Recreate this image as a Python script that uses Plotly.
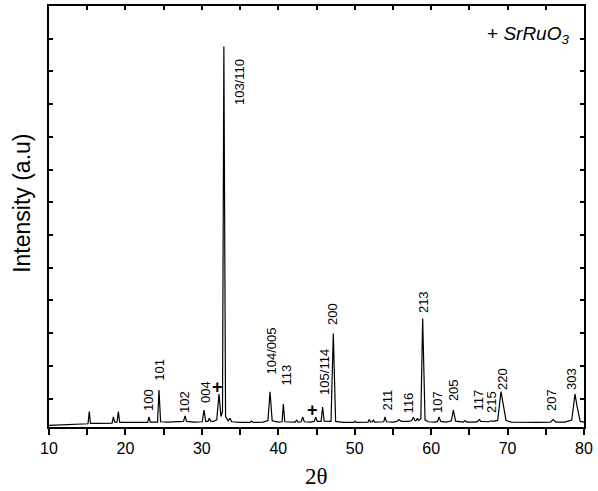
import plotly.graph_objects as go

# XRD pattern (2theta in degrees, intensity in arbitrary units)
two_theta = [10.0, 12.0, 14.0, 15.1, 15.27, 15.42, 16.5, 18.25, 18.42, 18.6, 18.9, 19.07, 19.25,
             20.5, 21.5, 22.9, 23.08, 23.25, 24.2, 24.39, 24.6, 25.5, 27.0, 27.6, 27.8, 28.0,
             29.0, 30.05, 30.28, 30.5, 30.8, 30.97, 31.15, 31.5, 31.95, 32.24, 32.5, 32.7, 32.88,
             33.1, 33.45, 33.68, 33.9, 35.0, 36.3, 36.5, 36.7, 38.0, 38.65, 38.92, 39.2, 40.0,
             40.5, 40.66, 40.85, 41.5, 42.2, 42.4, 42.6, 43.0, 43.19, 43.4, 44.2, 44.7, 44.9,
             45.1, 45.6, 45.8, 46.0, 46.9, 47.2, 47.5, 48.5, 49.9, 50.04, 50.2, 51.0, 51.75,
             51.9, 52.1, 52.3, 52.44, 52.6, 53.5, 53.8, 53.96, 54.15, 55.0, 55.5, 55.79, 56.1,
             57.0, 57.45, 57.67, 57.9, 58.05, 58.2, 58.35, 58.65, 58.89, 59.2, 59.6, 60.5,
             60.85, 61.03, 61.25, 62.0, 62.65, 62.9, 63.2, 64.2, 64.43, 64.7, 65.8, 66.1, 66.3,
             66.5, 67.5, 67.75, 67.92, 68.1, 68.7, 69.14, 69.44, 69.8, 70.5, 72.0, 74.0, 75.6,
             75.98, 76.3, 77.5, 78.4, 78.82, 79.1, 79.5, 80.0]
intensity = [18, 20, 22, 23, 60, 24, 24, 25, 44, 28, 28, 60, 27,
             26, 27, 27, 44, 28, 28, 126, 29, 28, 29, 30, 47, 30,
             28, 29, 65, 30, 30, 40, 31, 30, 35, 114, 45, 60, 1176,
             45, 32, 40, 29, 27, 27, 31, 27, 28, 33, 121, 32, 28,
             29, 83, 29, 28, 28, 34, 28, 29, 44, 29, 28, 30, 43,
             30, 30, 74, 31, 30, 299, 30, 27, 27, 31, 27, 27, 28,
             36, 28, 29, 34, 28, 28, 29, 44, 29, 28, 30, 36, 30,
             30, 32, 43, 32, 33, 40, 33, 38, 345, 35, 29, 28,
             30, 44, 30, 28, 32, 65, 31, 28, 32, 28, 28, 30, 36,
             30, 29, 30, 32, 30, 33, 121, 80, 33, 28, 27, 27, 28,
             36, 28, 28, 34, 114, 75, 30, 28]

# Peak (hkl) labels
label_text = ["100", "101", "102", "004", "103/110", "104/005", "113", "105/114", "200",
              "211", "116", "213", "107", "205", "117", "215", "220", "207", "303"]
label_x = [23.08, 24.52, 27.8, 30.41, 34.86, 39.05, 41.14, 46.11, 47.16,
           54.22, 56.97, 58.93, 60.9, 62.86, 66.13, 67.96, 69.27, 75.81, 78.3]
label_y = [56, 148, 50, 80, 991, 166, 132, 105, 319,
           59, 50, 355, 50, 86, 59, 50, 120, 56, 120]

# SrRuO3 markers
plus_x = [32.11, 44.54]
plus_y = [135, 65]

FONT = "Liberation Sans, Arial"

fig = go.Figure()
fig.add_trace(go.Scatter(x=two_theta, y=intensity, mode="lines",
                         line=dict(color="black", width=1.2), showlegend=False))
# helper trace for top axis ticks
fig.add_trace(go.Scatter(x=[10, 80], y=[None, None], xaxis="x2", showlegend=False,
                         hoverinfo="skip"))

for t, x, y in zip(label_text, label_x, label_y):
    fig.add_annotation(x=x, y=y, xref="x", yref="y", text=t, textangle=-90,
                       showarrow=False, xanchor="center", yanchor="bottom",
                       font=dict(family=FONT, size=13, color="black"))
for x, y in zip(plus_x, plus_y):
    fig.add_annotation(x=x, y=y, xref="x", yref="y", text="<b>+</b>",
                       showarrow=False, xanchor="center", yanchor="middle",
                       font=dict(family=FONT, size=18, color="black"))

fig.add_annotation(x=0.976, y=0.964, xref="paper", yref="paper",
                   text="+ <i>SrRuO</i><sub><i>3</i></sub>", showarrow=False,
                   xanchor="right", yanchor="top",
                   font=dict(family=FONT, size=19, color="black"))

# axis titles
fig.add_annotation(x=0, y=0.53, xref="paper", yref="paper", xshift=-27,
                   text="Intensity (a.u)", textangle=-90, showarrow=False,
                   xanchor="center", yanchor="middle",
                   font=dict(family=FONT, size=23, color="black"))
fig.add_annotation(x=0.5, y=0, xref="paper", yref="paper", yshift=-49,
                   text="2θ", showarrow=False, xanchor="center", yanchor="middle",
                   font=dict(family="Liberation Serif, Times New Roman", size=23, color="black"))

fig.update_layout(
    width=598, height=491,
    margin=dict(l=49, r=14, t=6, b=64, autoexpand=False),
    paper_bgcolor="white", plot_bgcolor="white",
    xaxis=dict(range=[10, 80], tickmode="linear", tick0=10, dtick=10,
               ticks="outside", ticklen=6, tickwidth=1.5, tickcolor="black",
               minor=dict(ticks="outside", ticklen=6, tickwidth=1.5, tickcolor="black", dtick=5),
               showline=True, linecolor="black", linewidth=2, mirror=True,
               showgrid=False, zeroline=False, automargin=False,
               tickfont=dict(family=FONT, size=16, color="black")),
    xaxis2=dict(range=[10, 80], overlaying="x", side="top", tickmode="linear", tick0=10, dtick=5,
                ticks="inside", ticklen=4, tickwidth=1.5, tickcolor="black",
                showticklabels=False, showgrid=False, zeroline=False, showline=False,
                automargin=False),
    yaxis=dict(range=[13, 1300], tickmode="linear", tick0=0, dtick=100,
               ticks="inside", ticklen=4, tickwidth=1.5, tickcolor="black",
               showticklabels=False, showline=True, linecolor="black", linewidth=2,
               mirror="ticks", showgrid=False, zeroline=False, automargin=False),
)

fig.write_html("out.html", config={"displayModeBar": False},
               post_script="document.body.style.margin='0';document.body.style.padding='0';")
